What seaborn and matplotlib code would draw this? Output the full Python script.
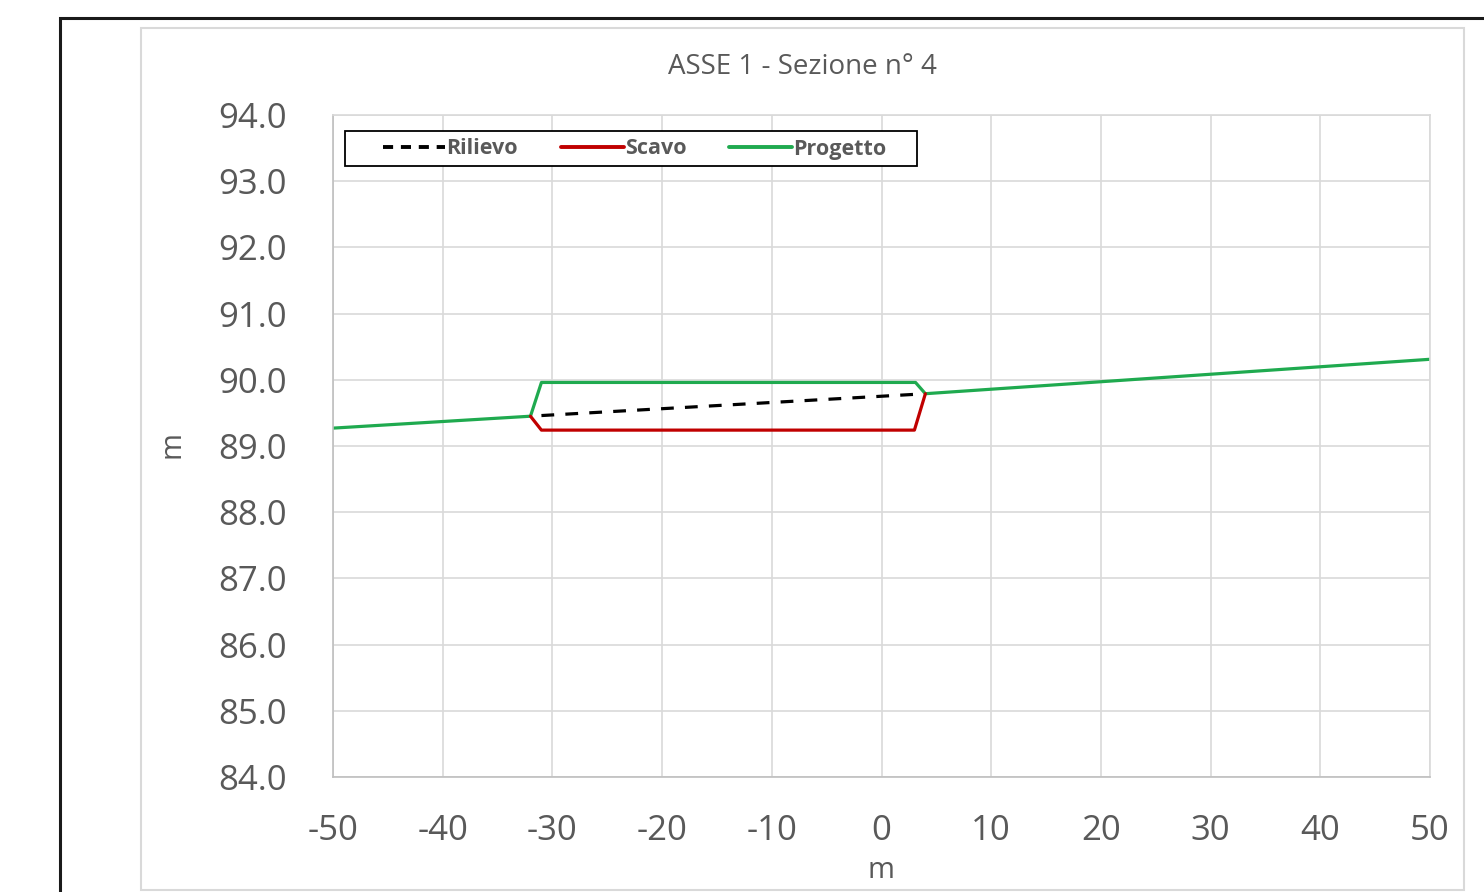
import pandas as pd
import seaborn as sns
import matplotlib.pyplot as plt
from matplotlib.patches import Rectangle
from matplotlib.lines import Line2D

# data read from the cross section
rilievo_x = [-31.0, 3.0]
rilievo_y = [89.46, 89.78]

scavo_x = [-32.0, -31.0, 3.0, 4.0]
scavo_y = [89.45, 89.24, 89.24, 89.79]

progetto_x = [-50.0, -32.0, -31.0, 3.1, 4.0, 50.0]
progetto_y = [89.27, 89.45, 89.96, 89.96, 89.79, 90.31]

x_ticks = list(range(-50, 51, 10))
y_ticks = [84 + i for i in range(11)]

sns.set_theme(style="white")
plt.rcParams['font.family'] = ['Open Sans', 'DejaVu Sans']
plt.rcParams['axes.unicode_minus'] = False

W, H = 1484, 892
fig = plt.figure(figsize=(W / 100, H / 100), dpi=100)
fig.patch.set_facecolor('white')

# outer black frame and inner grey chart frame
fig.add_artist(Rectangle((60 / W, -0.1), 2.0, 1 - 18 / H + 0.1, transform=fig.transFigure,
                         fill=False, edgecolor='#1a1a1a', linewidth=2.2, clip_on=False))
fig.add_artist(Rectangle((141 / W, 1 - 890 / H), (1464 - 141) / W, (890 - 28) / H,
                         transform=fig.transFigure, fill=False, edgecolor='#d9d9d9',
                         linewidth=1.5))

ax = fig.add_axes([333 / W, 1 - 777 / H, (1430 - 333) / W, (777 - 115) / H])
AW, AH = 1430 - 333, 777 - 115

green = '#1faa4f'
red = '#c00000'
grey_txt = '#595959'

sns.lineplot(x=progetto_x, y=progetto_y, sort=False, estimator=None, color=green,
             linewidth=2.3, ax=ax)
sns.lineplot(x=scavo_x, y=scavo_y, sort=False, estimator=None, color=red,
             linewidth=2.3, ax=ax)
sns.lineplot(x=rilievo_x, y=rilievo_y, sort=False, estimator=None, color='black',
             linewidth=2.3, dashes=False, ax=ax)
ax.lines[-1].set_dashes((4, 3.5))

ax.set_xlim(-50, 50)
ax.set_ylim(84, 94)
ax.set_xticks(x_ticks)
ax.set_yticks(y_ticks)
ax.set_yticklabels([f"{v:.1f}" for v in y_ticks])
ax.grid(True, color='#d9d9d9', linewidth=1.2)
for s in ax.spines.values():
    s.set_color('#d9d9d9')
    s.set_linewidth(1.2)
ax.spines['left'].set_color('#bfbfbf')
ax.spines['bottom'].set_color('#bfbfbf')
ax.tick_params(axis='y', length=0, pad=33, labelsize=25, labelcolor=grey_txt)
ax.tick_params(axis='x', length=0, pad=27, labelsize=25, labelcolor=grey_txt)

fig.text(802 / W, 1 - 67 / H, 'ASSE 1 - Sezione n° 4', ha='center', va='center',
         fontsize=20, color=grey_txt)
fig.text(172 / W, 1 - 445 / H, 'm', ha='center', va='center', rotation=90,
         fontsize=21, color=grey_txt)
fig.text(881 / W, 1 - 870 / H, 'm', ha='center', va='center',
         fontsize=21, color=grey_txt)

# legend box (white, black border) drawn by hand, entries placed inside
ax.add_patch(Rectangle(((345 - 333) / AW, 1 - (166 - 115) / AH), (917 - 345) / AW,
                       (166 - 131) / AH, transform=ax.transAxes, facecolor='white',
                       edgecolor='black', linewidth=1.3, zorder=3))
handles = [
    Line2D([], [], color='black', linewidth=2.8, dashes=(2.6, 2.0)),
    Line2D([], [], color=red, linewidth=2.8),
    Line2D([], [], color=green, linewidth=2.8),
]
leg = ax.legend(handles, ['Rilievo', 'Scavo', 'Progetto'], ncol=3, loc='center left',
                bbox_to_anchor=((383 - 333) / AW, 1 - (149 - 115) / AH, (886 - 383) / AW, 0.0),
                mode='expand', borderaxespad=0, borderpad=0, frameon=False,
                handlelength=2.9, handletextpad=0.05, columnspacing=1.5,
                prop={'size': 15.5, 'weight': 'bold'})
leg.set_zorder(4)
for t in leg.get_texts():
    t.set_color(grey_txt)

fig.savefig('out.png', dpi=100)
